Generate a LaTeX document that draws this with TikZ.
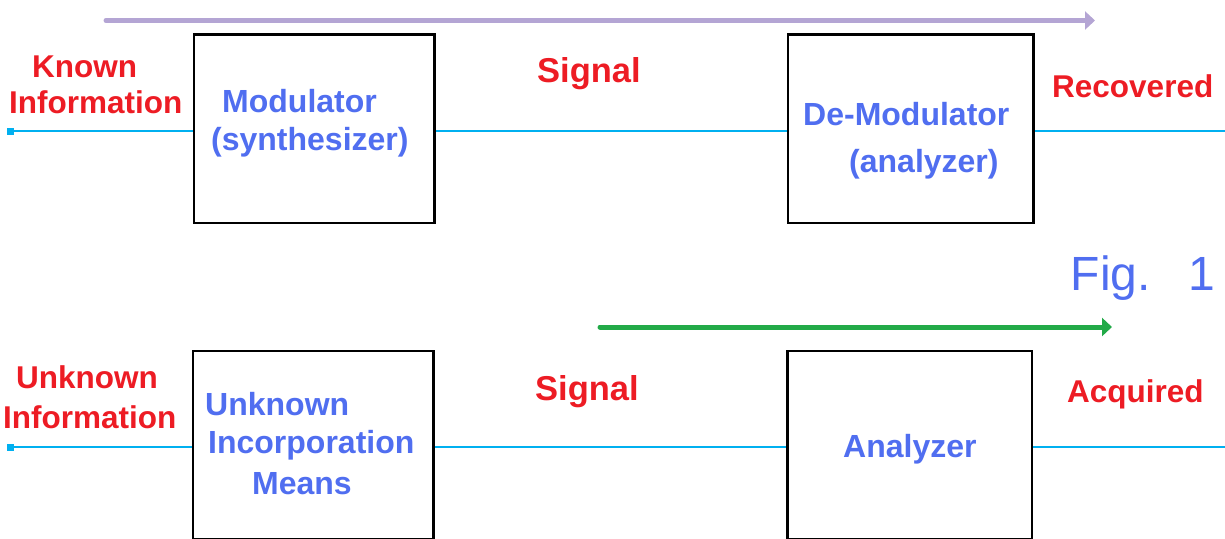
\documentclass[tikz,border=0pt]{standalone}
\usepackage{fontspec}
\setmainfont{Liberation Sans}
\usetikzlibrary{arrows.meta}

\definecolor{lblred}{RGB}{237,28,36}
\definecolor{lblblue}{RGB}{80,110,240}
\definecolor{sigcyan}{RGB}{0,176,240}
\definecolor{flowpurple}{RGB}{180,165,212}
\definecolor{flowgreen}{RGB}{34,170,72}

\tikzset{
  blockbox/.style={draw=black, line width=2.4pt, inner sep=0pt},
  sigline/.style={draw=sigcyan, line width=2pt},
  endmark/.style={fill=sigcyan, inner sep=0pt, minimum width=7pt, minimum height=7pt},
  flowarrow/.style={line width=5pt, line cap=round, -{Triangle[length=10pt,width=18pt]}},
  redlbl/.style={text=lblred, inner sep=0pt, anchor=base west, font=\fontsize{31.5}{36}\selectfont\bfseries},
  bluelbl/.style={text=lblblue, inner sep=0pt, anchor=base west, font=\fontsize{32}{37}\selectfont\bfseries},
  siglbl/.style={text=lblred, inner sep=0pt, anchor=base west, font=\fontsize{34.5}{40}\selectfont\bfseries},
  figlbl/.style={text=lblblue, inner sep=0pt, anchor=base west, font=\fontsize{48}{55}\selectfont},
}

\begin{document}
\begin{tikzpicture}[x=1pt, y=-1pt]
  \useasboundingbox (0,0) rectangle (1225,538);
  \clip (0,0) rectangle (1225,538);

  % ---- upper chain: known information through modulator and de-modulator ----
  \node[blockbox, minimum width=240.7pt, minimum height=188.5pt] (mod) at (314.3,128.75) {};
  \node[blockbox, minimum width=245.7pt, minimum height=188.5pt] (demod) at (910.8,128.75) {};

  \node[endmark] (in1) at (10.5,131) {};
  \coordinate (out1) at (1225,131);
  \draw[sigline] (in1.center) -- (in1.center -| mod.west);
  \draw[sigline] (mod.east |- in1.center) -- (demod.west |- in1.center);
  \draw[sigline] (demod.east |- in1.center) -- (out1);

  \coordinate (pa) at (106,20.5);
  \coordinate (pb) at (1095,20.5);
  \draw[flowarrow, flowpurple] (pa) -- (pb);

  \node[redlbl] (known) at (32,77) {Known};
  \node[redlbl] (info1) at (9,113) {Information};
  \node[bluelbl] (modA) at (222,112) {Modulator};
  \node[bluelbl] (modB) at (211,150) {(synthesizer)};
  \node[siglbl] (sig1) at (537,82) {Signal};
  \node[bluelbl] (demA) at (803,125) {De-Modulator};
  \node[bluelbl] (demB) at (849,172) {(analyzer)};
  \node[redlbl] (recov) at (1052,97) {Recovered};

  \node[figlbl] (fig) at (1070.5,290) {Fig.\hspace{38pt}1};

  % ---- lower chain: unknown information through an unknown means and analyzer ----
  \node[blockbox, minimum width=240.9pt, minimum height=188.5pt] (means) at (313.2,445.25) {};
  \node[blockbox, minimum width=244.5pt, minimum height=188.5pt] (anlz) at (909.75,445.25) {};

  \node[endmark] (in2) at (10.5,447) {};
  \coordinate (out2) at (1225,447);
  \draw[sigline] (in2.center) -- (in2.center -| means.west);
  \draw[sigline] (means.east |- in2.center) -- (anlz.west |- in2.center);
  \draw[sigline] (anlz.east |- in2.center) -- (out2);

  \coordinate (ga) at (600,327);
  \coordinate (gb) at (1112,327);
  \draw[flowarrow, flowgreen] (ga) -- (gb);

  \node[redlbl] (unk) at (16,388) {Unknown};
  \node[redlbl] (info2) at (3,428) {Information};
  \node[bluelbl] (meansA) at (205,415) {Unknown};
  \node[bluelbl] (meansB) at (208,453) {Incorporation};
  \node[bluelbl] (meansC) at (252,494) {Means};
  \node[siglbl] (sig2) at (535,400) {Signal};
  \node[bluelbl] (anlzA) at (843,457) {Analyzer};
  \node[redlbl] (acq) at (1067,402) {Acquired};
\end{tikzpicture}
\end{document}
